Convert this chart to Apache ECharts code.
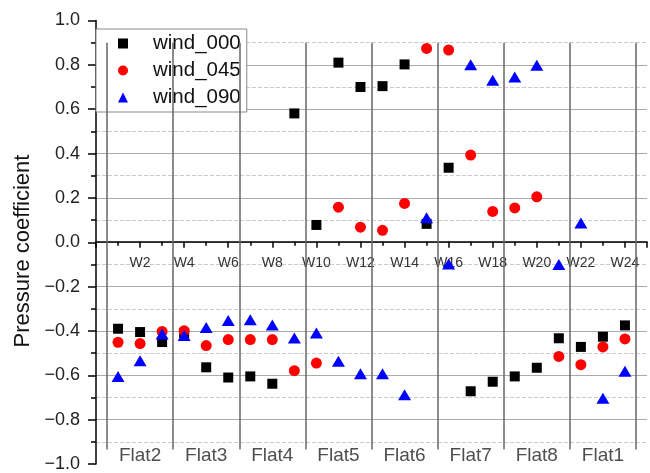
<!DOCTYPE html>
<html lang="en">
<head>
<meta charset="UTF-8">
<title>Pressure coefficient</title>
<script src="https://cdn.jsdelivr.net/npm/echarts@6/dist/echarts.min.js"></script>
<style>html,body{margin:0;padding:0;background:#fff}</style>
</head>
<body>
<div id="main" style="width:650px;height:473px"></div>
<script>
    // tap numbers W1..W24
    var taps = [1, 2, 3, 4, 5, 6, 7, 8, 9, 10, 11, 12, 13, 14, 15, 16, 17, 18, 19, 20, 21, 22, 23, 24];
    var wind000 = [-0.39, -0.405, -0.45, -0.41, -0.564, -0.61, -0.605, -0.638, 0.581, 0.078, 0.81, 0.70,
        0.704, 0.802, 0.083, 0.336, -0.672, -0.629, -0.605, -0.566, -0.433, -0.472, -0.426, -0.375];
    var wind045 = [-0.451, -0.457, -0.402, -0.399, -0.466, -0.439, -0.439, -0.439, -0.579, -0.545, 0.158, 0.068,
        0.054, 0.175, 0.874, 0.867, 0.393, 0.139, 0.155, 0.205, -0.515, -0.552, -0.472, -0.436];
    var wind090 = [-0.605, -0.534, -0.414, -0.421, -0.384, -0.353, -0.35, -0.373, -0.432, -0.409, -0.537, -0.593,
        -0.593, -0.688, 0.11, -0.098, 0.80, 0.73, 0.745, 0.798, -0.10, 0.087, -0.703, -0.582];
    var flatNames = ['Flat2', 'Flat3', 'Flat4', 'Flat5', 'Flat6', 'Flat7', 'Flat8', 'Flat1'];
    var flatEdges = [0.5, 3.5, 6.5, 9.5, 12.5, 15.5, 18.5, 21.5, 24.5];

    var font = "'Liberation Sans', Arial, sans-serif";
    var gridTop = 20.5, gridBottom = 8, H = 473;
    // x axis sits on y = 0, which is the middle of the -1..1 range
    var zeroOffset = -(H - gridTop - gridBottom) / 2;

    function pairs(vals) {
        return taps.map(function (t, i) { return [t, vals[i]]; });
    }

    var sepLines = flatEdges.map(function (e) {
        return [{coord: [e, 0.9]}, {coord: [e, -0.935]}];
    });
    var flatLabels = flatNames.map(function (n, i) {
        return {value: [(flatEdges[i] + flatEdges[i + 1]) / 2, -0.965], name: n};
    });

    var chartDom = document.getElementById('main');
    var myChart = echarts.init(chartDom);
    var option = {
        animation: false,
        grid: {left: 96, right: 1, top: gridTop, bottom: gridBottom},
        graphic: [{
            type: 'text',
            x: 23, y: 251,
            rotation: Math.PI / 2,
            style: {text: 'Pressure coefficient', font: '22px ' + font, fill: '#111',
                textAlign: 'center', textVerticalAlign: 'middle'}
        }],
        legend: {
            data: ['wind_000', 'wind_045', 'wind_090'],
            orient: 'vertical',
            left: 96,
            top: 29,
            backgroundColor: '#fff',
            borderColor: '#888',
            borderWidth: 1,
            padding: [4, 6, 4, 22],
            itemGap: 6,
            itemWidth: 10,
            itemHeight: 10,
            textStyle: {fontSize: 20.5, fontFamily: font, color: '#111', padding: [0, 0, 0, 20], lineHeight: 20}
        },
        xAxis: {
            type: 'value',
            min: 0,
            max: 25,
            interval: 2,
            offset: zeroOffset,
            axisLine: {onZero: false, lineStyle: {color: '#000', width: 1.5}},
            axisTick: {show: true, length: 6, lineStyle: {color: '#000', width: 1.5}},
            minorTick: {show: true, splitNumber: 2, length: 4, lineStyle: {color: '#000', width: 1.5}},
            axisLabel: {
                margin: 14, fontSize: 14, fontFamily: font, color: '#333',
                formatter: function (v) { return (v > 0 && v < 25) ? 'W' + v : ''; }
            },
            splitLine: {show: false}
        },
        yAxis: {
            type: 'value',
            min: -1,
            max: 1,
            interval: 0.2,
            axisLine: {show: true, onZero: false, lineStyle: {color: '#000', width: 1.5}},
            axisTick: {show: true, length: 8, lineStyle: {color: '#000', width: 1.5}},
            minorTick: {show: true, splitNumber: 2, length: 5, lineStyle: {color: '#000', width: 1.5}},
            axisLabel: {
                margin: 16, fontSize: 18, fontFamily: font, color: '#222',
                formatter: function (v) { return (v < -1e-9 ? '\u2212' : '') + Math.abs(v).toFixed(1); }
            },
            splitLine: {show: true, showMinLine: false, showMaxLine: false, lineStyle: {color: '#aaa', width: 1}},
            minorSplitLine: {show: true, lineStyle: {color: '#ccc', width: 1, type: 'dashed'}}
        },
        series: [
            {
                type: 'scatter',
                data: [],
                silent: true,
                markLine: {
                    silent: true,
                    symbol: 'none',
                    label: {show: false},
                    lineStyle: {color: '#666', width: 1.5, type: 'solid'},
                    data: sepLines
                }
            },
            {
                type: 'scatter',
                silent: true,
                symbolSize: 1,
                itemStyle: {color: 'transparent'},
                label: {
                    show: true, position: 'inside', fontSize: 19, fontFamily: font, color: '#222',
                    formatter: function (p) { return p.name; }
                },
                data: flatLabels
            },
            {
                name: 'wind_000',
                type: 'scatter',
                symbol: 'rect',
                symbolSize: 10,
                itemStyle: {color: '#000', opacity: 1},
                data: pairs(wind000)
            },
            {
                name: 'wind_045',
                type: 'scatter',
                symbol: 'circle',
                symbolSize: 11,
                itemStyle: {color: '#ff0000', opacity: 1},
                data: pairs(wind045)
            },
            {
                name: 'wind_090',
                type: 'scatter',
                symbol: 'triangle',
                symbolSize: [13, 11],
                itemStyle: {color: '#0000ff', opacity: 1},
                data: pairs(wind090)
            }
        ]
    };
    option && myChart.setOption(option);
</script>
</body>
</html>
